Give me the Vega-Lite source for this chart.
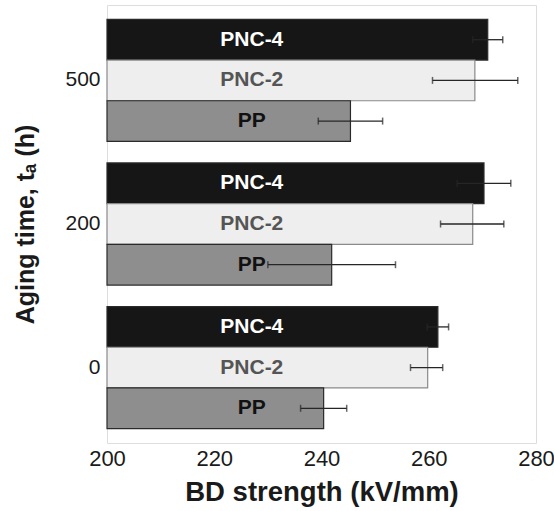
{
  "$schema": "https://vega.github.io/schema/vega-lite/v6.json",
  "autosize": {"type": "none"},
  "width": 429,
  "height": 438,
  "padding": {"left": 107, "top": 5, "right": 18, "bottom": 68},
  "background": "white",
  "config": {
    "view": {"stroke": "#dddddd", "strokeWidth": 1},
    "font": "Liberation Sans"
  },
  "data": {
    "values": [
      {"time": "500", "material": "PNC-4", "bd": 271.0, "lo": 268.2, "hi": 273.8},
      {"time": "500", "material": "PNC-2", "bd": 268.6, "lo": 260.7, "hi": 276.6},
      {"time": "500", "material": "PP", "bd": 245.4, "lo": 239.4, "hi": 251.4},
      {"time": "200", "material": "PNC-4", "bd": 270.3, "lo": 265.3, "hi": 275.3},
      {"time": "200", "material": "PNC-2", "bd": 268.2, "lo": 262.2, "hi": 274.0},
      {"time": "200", "material": "PP", "bd": 241.9, "lo": 230.0, "hi": 253.8},
      {"time": "0", "material": "PNC-4", "bd": 261.7, "lo": 259.7, "hi": 263.7},
      {"time": "0", "material": "PNC-2", "bd": 259.8, "lo": 256.6, "hi": 262.6},
      {"time": "0", "material": "PP", "bd": 240.4, "lo": 236.1, "hi": 244.7}
    ]
  },
  "encoding": {
    "y": {
      "field": "time", "type": "nominal", "sort": ["500", "200", "0"],
      "scale": {"paddingInner": 0.15, "paddingOuter": 0.1},
      "axis": {
        "title": "Aging time, tₐ (h)",
        "titleFontSize": 25, "titleFontWeight": "bold", "titleColor": "#1a1a1a",
        "titlePadding": 26,
        "labelFontSize": 21, "labelColor": "#1a1a1a", "labelFontWeight": "normal",
        "labelAngle": 0, "labelPadding": 7,
        "ticks": false, "domain": false
      }
    },
    "yOffset": {
      "field": "material", "type": "nominal", "sort": ["PNC-4", "PNC-2", "PP"],
      "scale": {"paddingInner": 0, "paddingOuter": 0}
    }
  },
  "layer": [
    {
      "mark": {"type": "bar", "strokeWidth": 1.2},
      "encoding": {
        "x": {
          "field": "bd", "type": "quantitative",
          "scale": {"domain": [200, 280], "zero": false, "nice": false},
          "axis": {
            "title": "BD strength (kV/mm)",
            "titleFontSize": 27.5, "titleFontWeight": "bold", "titleColor": "#1a1a1a",
            "titlePadding": 9,
            "values": [200, 220, 240, 260, 280],
            "labelFontSize": 22, "labelColor": "#1a1a1a",
            "labelPadding": 5, "labelFlush": false,
            "ticks": false, "domain": false, "grid": false
          }
        },
        "x2": {"datum": 200},
        "color": {
          "field": "material", "type": "nominal",
          "scale": {"domain": ["PNC-4", "PNC-2", "PP"], "range": ["#161616", "#eeeeee", "#8e8e8e"]},
          "legend": null
        },
        "stroke": {
          "condition": {"test": "datum.material === 'PNC-2'", "value": "#8a8a8a"},
          "value": "#2a2a2a"
        }
      }
    },
    {
      "mark": {"type": "rule", "strokeWidth": 1.3},
      "encoding": {
        "x": {"field": "lo", "type": "quantitative"},
        "x2": {"field": "hi"},
        "color": {"value": "#262626"}
      }
    },
    {
      "mark": {"type": "tick", "orient": "vertical", "size": 7, "thickness": 1.5},
      "encoding": {
        "x": {"field": "hi", "type": "quantitative"},
        "color": {"value": "#262626"}
      }
    },
    {
      "mark": {"type": "tick", "orient": "vertical", "size": 7, "thickness": 1.5},
      "encoding": {
        "x": {"field": "lo", "type": "quantitative"},
        "color": {"value": "#262626"}
      }
    },
    {
      "mark": {"type": "text", "fontSize": 21, "fontWeight": "bold", "align": "center", "baseline": "middle"},
      "encoding": {
        "x": {"datum": 227},
        "text": {"field": "material"},
        "color": {
          "condition": [
            {"test": "datum.material === 'PNC-4'", "value": "#ffffff"},
            {"test": "datum.material === 'PNC-2'", "value": "#555555"}
          ],
          "value": "#111111"
        }
      }
    }
  ]
}
